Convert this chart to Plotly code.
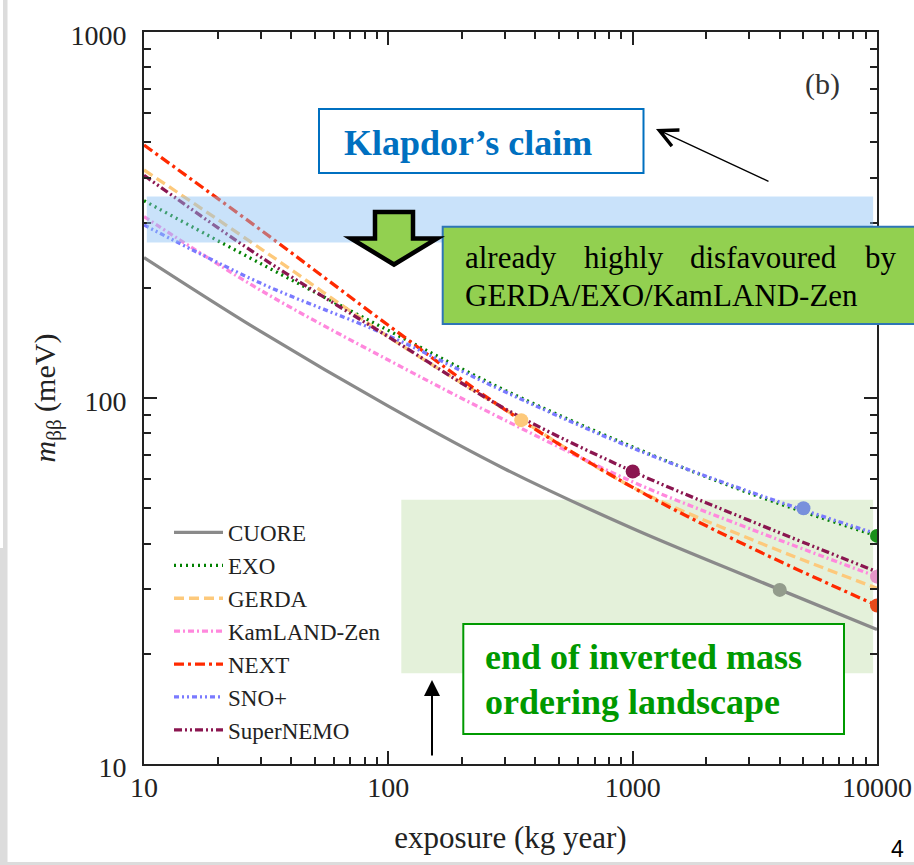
import math
import plotly.graph_objects as go

# ---------------- data ----------------
exposure = [10, 30, 100, 300, 1000, 3000, 10000]          # kg year
cuore = [242, 152, 95, 64, 44, 32.4, 23.3]                 # meV
exo = [346, 233, 153, 105, 73.5, 55, 42]
gerda = [420, 256, 147, 93, 57, 41.3, 30.2]
kamland = [313, 197, 127, 87, 59, 44, 32.5]
next_exp = [491, 288, 158, 93, 57, 39.2, 27.1]
snoplus = [297, 206, 148, 104, 73, 55.5, 42.5]
supernemo = [406, 243, 147, 93.5, 63, 46.3, 33.5]

names = ["CUORE", "EXO", "GERDA", "KamLAND-Zen", "NEXT", "SNO+", "SuperNEMO"]
series = [cuore, exo, gerda, kamland, next_exp, snoplus, supernemo]
marker_x = [4000, 10000, 350, 10000, 10000, 5000, 1000]
marker_y = [29.9, 42, 87, 32.5, 27.1, 50, 63]

x_ticks = [10, 100, 1000, 10000]
y_ticks = [10, 100, 1000]

klapdor_band_x = [10.27, 9640]
klapdor_band_y = [266, 355]
io_band_x = [113, 9640]
io_band_y = [17.7, 52.7]

# ---------------- styles ----------------
colors = ["#8a8a8a", "#008000", "#fdc97b", "#ff88dd", "#ff2a00", "#7a7aff", "#8b1650"]
marker_colors = ["#939c8c", "#1a8f1a", "#fdc97b", "#e695c8", "#e84a1a", "#7890dc", "#8b1650"]
dashes = ["solid", "2px,4px", "10px,5px", "6px,3px,2px,3px", "10px,4px,3px,4px",
          "5px,3px,2px,3px,2px,3px", "8px,3px,2px,3px,2px,3px"]

W, H = 914, 865
L, R, T, B = 144, 37, 32, 101
PW = W - L - R
PH = H - T - B


def px(x):
    return (x - L) / PW


def py(y):
    return (H - B - y) / PH


def dx(v):  # data -> paper on log x axis [1, 4]
    return (math.log10(v) - 1) / 3


def dy(v):  # data -> paper on log y axis [1, 3]
    return (math.log10(v) - 1) / 2


SERIF = "Liberation Serif, Times New Roman, serif"

fig = go.Figure()
for name, vals, c, d in zip(names, series, colors, dashes):
    fig.add_trace(go.Scatter(
        x=exposure, y=vals, name=name, mode="lines",
        line=dict(color=c, width=3.3, dash=d, shape="spline"),
    ))
for name, mx, my, mc in zip(names, marker_x, marker_y, marker_colors):
    fig.add_trace(go.Scatter(
        x=[mx], y=[my], mode="markers", showlegend=False,
        marker=dict(color=mc, size=14, line=dict(width=0)),
    ))

shapes = []
# inverted-ordering band (below traces)
shapes.append(dict(type="rect", xref="paper", yref="paper", layer="below",
                   x0=dx(io_band_x[0]), x1=dx(io_band_x[1]),
                   y0=dy(io_band_y[0]), y1=dy(io_band_y[1]),
                   fillcolor="#e4f1da", line=dict(width=0)))
# Klapdor band (semi-transparent, above traces)
shapes.append(dict(type="rect", xref="paper", yref="paper", layer="above",
                   x0=dx(klapdor_band_x[0]), x1=dx(klapdor_band_x[1]),
                   y0=dy(klapdor_band_y[0]), y1=dy(klapdor_band_y[1]),
                   fillcolor="rgb(136,191,244)", opacity=0.45, line=dict(width=0)))
# Klapdor box
shapes.append(dict(type="rect", xref="paper", yref="paper", layer="above",
                   x0=px(319), x1=px(643.5), y0=py(173), y1=py(109),
                   fillcolor="white", line=dict(color="#0070c0", width=2)))
# green "already disfavoured" box
shapes.append(dict(type="rect", xref="paper", yref="paper", layer="above",
                   x0=px(442.7), x1=px(925), y0=py(324), y1=py(226.7),
                   fillcolor="#92d050", line=dict(color="#2e75b6", width=2)))
# "end of inverted" box
shapes.append(dict(type="rect", xref="paper", yref="paper", layer="above",
                   x0=px(463.3), x1=px(844), y0=py(734), y1=py(624),
                   fillcolor="white", line=dict(color="#009a00", width=2)))
# block down arrow
pts = [(375, 212), (413, 212), (413, 238.5), (437, 238.5), (394, 264.5), (351, 238.5), (375, 238.5)]
path = "M " + " L ".join(f"{px(a):.5f},{py(b):.5f}" for a, b in pts) + " Z"
shapes.append(dict(type="path", xref="paper", yref="paper", layer="above", path=path,
                   fillcolor="#92d050", line=dict(color="black", width=4.5)))
# slide decorations
shapes.append(dict(type="rect", xref="paper", yref="paper", layer="above",
                   x0=px(3), x1=px(7.5), y0=py(548), y1=py(0),
                   fillcolor="#dcdcdc", line=dict(width=0)))
shapes.append(dict(type="rect", xref="paper", yref="paper", layer="above",
                   x0=px(0), x1=px(7.5), y0=py(865), y1=py(548),
                   fillcolor="#dcdcdc", line=dict(width=0)))
shapes.append(dict(type="rect", xref="paper", yref="paper", layer="above",
                   x0=px(0), x1=px(914), y0=py(865), y1=py(862),
                   fillcolor="#dcdcdc", line=dict(width=0)))

ann = []
ann.append(dict(xref="paper", yref="paper", x=px(468), y=py(143), showarrow=False,
                text="<b>Klapdor’s claim</b>", font=dict(family=SERIF, size=36, color="#0070c0"),
                xanchor="center", yanchor="middle"))
for word, xl in [("already", 462.7), ("highly", 581.7), ("disfavoured", 688), ("by", 863)]:
    ann.append(dict(xref="paper", yref="paper", x=px(xl), y=py(257.5), showarrow=False,
                    text=word, font=dict(family=SERIF, size=31, color="black"),
                    xanchor="left", yanchor="middle"))
ann.append(dict(xref="paper", yref="paper", x=px(462.7), y=py(296), showarrow=False,
                text="GERDA/EXO/KamLAND-Zen", font=dict(family=SERIF, size=31, color="black"),
                xanchor="left", yanchor="middle"))
ann.append(dict(xref="paper", yref="paper", x=px(483), y=py(657), showarrow=False,
                text="<b>end of inverted mass</b>", font=dict(family=SERIF, size=36, color="#009900"),
                xanchor="left", yanchor="middle"))
ann.append(dict(xref="paper", yref="paper", x=px(483), y=py(702), showarrow=False,
                text="<b>ordering landscape</b>", font=dict(family=SERIF, size=36, color="#009900"),
                xanchor="left", yanchor="middle"))
ann.append(dict(xref="paper", yref="paper", x=px(822), y=py(84), showarrow=False,
                text="(b)", font=dict(family=SERIF, size=30, color="#333333"),
                xanchor="center", yanchor="middle"))
ann.append(dict(xref="paper", yref="paper", x=px(897), y=py(849), showarrow=False,
                text="4", font=dict(family="Liberation Sans, Arial, sans-serif", size=23, color="black"),
                xanchor="center", yanchor="middle"))
# arrows
ann.append(dict(xref="paper", yref="paper", x=px(656), y=py(129), ax=114, ay=53,
                text="", showarrow=True, arrowhead=5, arrowsize=2.5, arrowwidth=1.4,
                arrowcolor="black", standoff=0))
ann.append(dict(xref="paper", yref="paper", x=px(432), y=py(680), ax=0, ay=77,
                text="", showarrow=True, arrowhead=2, arrowsize=1.6, arrowwidth=2,
                arrowcolor="black", standoff=0))

axis_common = dict(
    type="log", showgrid=False, zeroline=False, automargin=False,
    showline=True, linecolor="#222222", linewidth=2, mirror="allticks",
    ticks="inside", ticklen=13, tickwidth=1.5, tickcolor="#222222",
    minor=dict(ticks="inside", ticklen=7, tickwidth=1.5, tickcolor="#222222", dtick="D1"),
    tickfont=dict(family=SERIF, size=28, color="#222222"),
)

fig.update_layout(
    width=W, height=H, autosize=False,
    margin=dict(l=L, r=R, t=T, b=B, autoexpand=False),
    paper_bgcolor="white", plot_bgcolor="white",
    showlegend=True,
    legend=dict(x=px(169), y=py(511), xanchor="left", yanchor="top",
                bgcolor="rgba(0,0,0,0)", font=dict(family=SERIF, size=23, color="#222222"),
                itemwidth=49, tracegroupgap=0),
    shapes=shapes, annotations=ann,
)
fig.update_xaxes(**axis_common, range=[1, 4], tickvals=x_ticks,
                 ticktext=[str(v) for v in x_ticks], ticklabelstandoff=-3,
                 title=dict(text="exposure (kg year)", font=dict(family=SERIF, size=31, color="#222222"),
                            standoff=25))
fig.update_yaxes(**axis_common, range=[1, 3], tickvals=y_ticks,
                 ticktext=[str(v) for v in y_ticks], ticklabelstandoff=10, ticklabelshift=3,
                 title=dict(text="<i>m</i><sub>ββ</sub> (meV)", font=dict(family=SERIF, size=30, color="#222222"),
                            standoff=6))

fig.write_html("out.html")
